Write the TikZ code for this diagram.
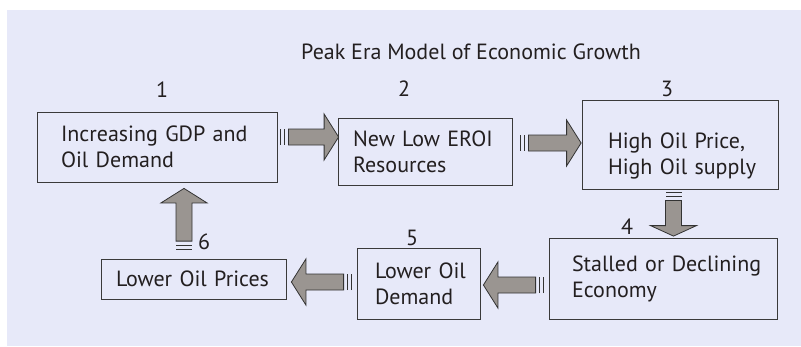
\documentclass[tikz,border=0pt]{standalone}
\usepackage{fontspec}
\setmainfont{PT Sans}
\usetikzlibrary{calc}

\definecolor{panelbg}{HTML}{E7E9F9}
\definecolor{boxline}{HTML}{3A3A3A}
\definecolor{arrowfill}{HTML}{9A9591}
\definecolor{arrowline}{HTML}{333333}
\definecolor{textcol}{HTML}{231F20}

% block arrow with two stripes at its tail: [head length]{tail}{tip}
\newcommand{\stripedarrow}[3][14.5pt]{%
  \coordinate (as) at (#2);
  \coordinate (ae) at (#3);
  \coordinate (hb) at ($(ae)!#1!(as)$);
  \coordinate (bs) at ($(as)!8pt!(ae)$);
  \draw[blockarrow] ($(bs)!8pt!90:(ae)$) -- ($(hb)!8pt!-90:(as)$) -- ($(hb)!23pt!-90:(as)$) -- (ae)
    -- ($(hb)!23pt!90:(as)$) -- ($(hb)!8pt!90:(as)$) -- ($(bs)!8pt!-90:(ae)$) -- cycle;
  \foreach \off in {0pt,4pt}
    \draw[stripe] ($(as)!\off!(ae)!8pt!90:(ae)$) -- ($(as)!\off!(ae)!8pt!-90:(ae)$);
}

\begin{document}
\begin{tikzpicture}[x=1pt,y=-1pt,
    box/.style={draw=boxline, line width=0.8pt, align=left, inner ysep=0pt,
      font=\fontsize{22}{26}\selectfont, text=textcol},
    num/.style={font=\fontsize{22}{26}\selectfont, text=textcol},
    blockarrow/.style={fill=arrowfill, draw=arrowline, line width=0.8pt, line join=miter},
    stripe/.style={draw=arrowline, line width=1.2pt}]
  \useasboundingbox (0,0) rectangle (801,346);
  \fill[panelbg] (7,10) rectangle (801,346);

  \node[num, anchor=base] (title) at (471,59) {Peak Era Model of Economic Growth};

  % boxes
  \node[box, minimum width=240pt, minimum height=70pt, text width=192pt, inner xsep=24pt] (b1) at (157,147)
    {\mbox{Increasing GDP and}\\Oil Demand};
  \node[box, minimum width=174pt, minimum height=67pt, text width=144pt, inner xsep=15pt] (b2) at (425,151.5)
    {\mbox{New Low EROI}\\Resources};
  \node[box, minimum width=196pt, minimum height=89pt, text width=144pt, inner xsep=26pt] (b3) at (680,144.5)
    {\rule{0pt}{38pt}\mbox{High Oil Price,}\\\mbox{High Oil supply}};
  \node[box, minimum width=228pt, minimum height=81pt, text width=182pt, inner xsep=23pt] (b4) at (663,278.5)
    {\mbox{Stalled or Declining}\\Economy};
  \node[box, minimum width=123pt, minimum height=71pt, text width=87pt, inner xsep=18pt] (b5) at (418.5,283.5)
    {\mbox{Lower Oil}\\Demand};
  \node[box, minimum width=185pt, minimum height=40pt, text width=155pt, inner xsep=15pt] (b6) at (193.5,279)
    {\mbox{Lower Oil Prices}};

  % step numbers
  \node[num] (n1) at (162,90) {1};
  \node[num] (n2) at (404,89) {2};
  \node[num] (n3) at (667,89) {3};
  \node[num] (n4) at (627,227) {4};
  \node[num] (n5) at (412,238) {5};
  \node[num] (n6) at (204,242) {6};

  % arrows
  \stripedarrow{[xshift=3pt,yshift=10pt]b1.east}{[xshift=1pt,yshift=14.5pt]b2.west}
  \stripedarrow{[xshift=8pt,yshift=8.5pt]b2.east}{[xshift=-0.5pt,yshift=1.5pt]b3.west}
  \stripedarrow[10.5pt]{[xshift=-6.5pt,yshift=-3pt]b3.south}{[xshift=10.5pt,yshift=1.5pt]b4.north}
  \stripedarrow{[xshift=-5pt,yshift=-6.5pt]b4.west}{[xshift=3pt,yshift=-1.5pt]b5.east}
  \stripedarrow{[xshift=-5pt,yshift=1.5pt]b5.west}{[xshift=5pt,yshift=-3pt]b6.east}
  \stripedarrow{[xshift=-9.5pt,yshift=9.5pt]b6.north}{[xshift=27pt,yshift=-6pt]b1.south}
\end{tikzpicture}
\end{document}
